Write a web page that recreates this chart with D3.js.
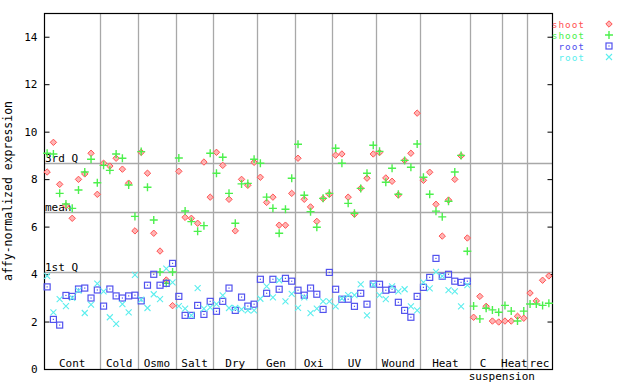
<!DOCTYPE html>
<html>
<head>
  <script src="https://d3js.org/d3.v7.min.js"></script>
</head>
<style>
  body { margin: 0; background: #fff; }
  text { font-family: "DejaVu Sans Mono", monospace; font-size: 11px; }
</style>
<body>
  <svg id="chart"></svg>
</body>
<script>
  var w = 640;
  var h = 384;
  var margin = {top: 13, right: 88, bottom: 15, left: 44};

  // groups of samples along the x axis
  var groups = ["Cont", "Cold", "Osmo", "Salt", "Dry", "Gen", "Oxi", "UV", "Wound", "Heat", "C suspension", "Heat", "rec"];
  var groupSizes = [9, 6, 6, 6, 7, 6, 6, 7, 7, 8, 5, 4, 4];

  var seriesNames = ["shoot", "shoot", "root", "root"];

  var shootRed = [
    8.30, 9.55, 7.78, 6.88, 6.35, 7.99, 8.22, 9.09, 7.36,
    8.67, 8.55, 8.88, 8.42, 7.83, 5.82,
    9.13, 8.25, 5.72, 4.97, 3.75, 2.67,
    8.33, 6.39, 6.35, 6.14, 8.72, 7.24,
    9.13, 8.58, 7.15, 5.82, 7.99, 7.74, 8.71,
    8.08, 7.02, 7.24, 6.06, 6.06, 7.40,
    8.88, 7.15, 6.83, 6.22, 7.18, 7.36,
    9.01, 9.06, 7.24, 6.52, 7.61, 8.04, 9.06,
    9.12, 8.05, 7.91, 7.33, 8.79, 9.09, 10.78,
    7.95, 8.29, 6.94, 5.60, 7.12, 7.99, 8.98, 5.52,
    2.18, 3.06, 2.64, 2.02, 1.98,
    2.02, 2.02, 2.22, 2.14,
    3.20, 2.87, 3.74, 3.92
  ];
  var shootGreen = [
    9.09, 9.06, 7.40, 6.95, 6.77, 7.54, 8.30, 8.84, 7.85,
    8.58, 8.37, 9.06, 8.88, 7.75, 6.43,
    9.16, 7.66, 6.28, 4.09, 3.61, 4.09,
    8.89, 6.66, 6.21, 5.80, 6.04, 9.09,
    8.25, 8.92, 7.40, 6.14, 7.80, 7.82, 8.84,
    8.67, 7.24, 6.77, 5.72, 6.73, 8.04,
    9.47, 7.32, 6.63, 5.97, 7.19, 7.40,
    9.30, 8.67, 6.98, 6.56, 7.61, 8.25, 9.43,
    9.17, 7.87, 8.46, 7.36, 8.79, 8.50, 9.48,
    8.08, 7.36, 6.65, 6.41, 7.07, 8.30, 9.00, 4.96,
    2.65, 2.11, 2.56, 2.49, 2.39,
    2.68, 2.44, 2.02, 2.44,
    2.74, 2.74, 2.68, 2.77
  ];
  var rootBlue = [
    3.46, 2.09, 1.85, 3.10, 3.06, 3.37, 3.41, 2.99, 3.33,
    2.65, 3.37, 3.08, 2.99, 3.08, 3.11,
    2.87, 3.53, 3.99, 3.53, 3.61, 4.45,
    3.06, 2.26, 2.26, 2.68, 2.30, 2.85,
    2.43, 2.85, 3.41, 2.47, 3.03, 2.65, 2.73,
    3.78, 3.19, 3.78, 3.36, 3.82, 3.70,
    3.32, 3.11, 3.41, 3.15, 2.51, 4.07,
    3.36, 2.94, 2.94, 2.64, 3.19, 2.73, 3.58,
    3.57, 3.32, 3.36, 2.81, 2.47, 2.18, 3.06,
    3.44, 3.86, 4.66, 3.91, 3.99, 3.70, 3.65, 3.70
  ];
  var rootCyan = [
    3.92, 2.39, 2.94, 2.65, 3.00, 3.30, 2.36, 2.71, 3.60,
    3.27, 2.18, 1.90, 2.73, 2.39, 3.97,
    2.92, 2.57, 3.15, 2.94, 4.23, 3.65,
    2.65, 2.54, 2.26, 3.41, 2.54, 2.60,
    2.73, 3.10, 2.57, 2.57, 2.51, 2.47, 2.47,
    2.96, 3.48, 3.02, 3.74, 2.85, 3.17,
    2.58, 3.02, 2.35, 2.54, 2.85, 2.85,
    2.64, 2.97, 3.11, 3.11, 3.57, 2.26, 3.55,
    3.11, 2.94, 3.48, 3.27, 3.36, 2.64, 2.47,
    3.65, 3.40, 4.09, 3.91, 3.32, 3.27, 2.64, 3.53
  ];

  var refLabels = ["3rd Q", "mean", "1st Q"];
  var refValues = [8.69, 6.62, 4.09];
  var yTicks = [0, 2, 4, 6, 8, 10, 12, 14];

  var colors = ["#ff5353", "#4cf04c", "#5252ee", "#5ceeee"];
  var symbols = ["diamond", "plus", "square", "cross"];

  var nSamples = d3.sum(groupSizes);
  var x = d3.scaleBand()
      .domain(d3.range(nSamples))
      .range([margin.left, w - margin.right])
      .padding(0);
  var y = d3.scaleLinear()
      .domain([0, 15])
      .range([h - margin.bottom, margin.top]);

  var cx = function(i){ return x(i) + x.bandwidth()/2; };

  var svg = d3.select("svg#chart")
      .attr("width", w)
      .attr("height", h);

  // group boundaries
  var starts = [];
  var acc = 0;
  groupSizes.forEach(function(n){ starts.push(acc); acc += n; });

  svg.append("g")
      .selectAll("line")
      .data(starts.slice(1))
      .enter().append("line")
      .attr("x1", function(d){ return Math.round(x(d)) + 0.5; })
      .attr("x2", function(d){ return Math.round(x(d)) + 0.5; })
      .attr("y1", y(15))
      .attr("y2", y(0))
      .style("stroke", "#a8a8a8")
      .style("stroke-width", 1.3);

  // quartile / mean lines
  svg.append("g")
      .selectAll("line")
      .data(refValues)
      .enter().append("line")
      .attr("x1", margin.left)
      .attr("x2", w - margin.right)
      .attr("y1", function(d){ return Math.round(y(d)) + 0.5; })
      .attr("y2", function(d){ return Math.round(y(d)) + 0.5; })
      .style("stroke", "#a8a8a8")
      .style("stroke-width", 1.3);

  svg.append("g")
      .selectAll("text")
      .data(refValues)
      .enter().append("text")
      .attr("x", margin.left + 1)
      .attr("y", function(d){ return Math.round(y(d)) - 1; })
      .text(function(d, i){ return refLabels[i]; });

  // axes
  var yAxisL = d3.axisLeft(y).tickValues(yTicks).tickSizeInner(-5).tickSizeOuter(0).tickPadding(7);
  var yAxisR = d3.axisRight(y).tickValues(yTicks).tickSizeInner(-5).tickSizeOuter(0).tickFormat("");

  var gl = svg.append("g")
      .attr("transform", "translate(" + (margin.left + 0.5) + ",0)")
      .call(yAxisL);
  var gr = svg.append("g")
      .attr("transform", "translate(" + (w - margin.right + 0.5) + ",0)")
      .call(yAxisR);
  [gl, gr].forEach(function(g){
    g.select(".domain").remove();
    g.selectAll("line").style("stroke", "#000");
    g.selectAll("text").style("font-family", "DejaVu Sans Mono, monospace").style("font-size", "11px").attr("fill", "#000");
  });

  // frame
  svg.append("rect")
      .attr("x", margin.left + 0.5)
      .attr("y", margin.top + 0.5)
      .attr("width", w - margin.right - margin.left)
      .attr("height", h - margin.bottom - margin.top)
      .style("fill", "none")
      .style("stroke", "#000")
      .style("stroke-width", 1.2);

  // group labels
  svg.append("g")
      .selectAll("text")
      .data(groups)
      .enter().append("text")
      .attr("x", function(d, i){
        var mid = x(starts[i]) + groupSizes[i]*x.bandwidth()/2;
        return d === "C suspension" ? mid - 3 : mid;
      })
      .attr("y", y(0) - 2)
      .attr("text-anchor", "middle")
      .text(function(d){ return d.split(" ")[0]; });

  var ci = groups.indexOf("C suspension");
  svg.append("text")
      .attr("x", x(starts[ci] + groupSizes[ci]))
      .attr("y", y(0) + 11)
      .attr("text-anchor", "middle")
      .text("suspension");

  // y title
  svg.append("text")
      .attr("transform", "translate(12," + y(7.5) + ") rotate(-90)")
      .attr("text-anchor", "middle")
      .style("font-size", "11.5px")
      .text("affy-normalized expression");

  // marker drawing
  function marker(g, type, color){
    if (type === "diamond") {
      g.append("path").attr("d", "M0,-3.2L3.2,0L0,3.2L-3.2,0Z")
        .style("fill", "#ffb4b4").style("stroke", color).style("stroke-width", 1);
    } else if (type === "plus") {
      g.append("path").attr("d", "M-4,0H4M0,-4V4")
        .style("stroke", color).style("stroke-width", 1.4).style("fill", "none");
    } else if (type === "square") {
      g.append("rect").attr("x", -3).attr("y", -3).attr("width", 6).attr("height", 6)
        .style("fill", "none").style("stroke", color).style("stroke-width", 1.2);
      g.append("rect").attr("x", -0.6).attr("y", -0.6).attr("width", 1.2).attr("height", 1.2)
        .style("fill", color);
    } else {
      g.append("path").attr("d", "M-3,-3L3,3M-3,3L3,-3")
        .style("stroke", color).style("stroke-width", 1.1).style("fill", "none");
    }
  }

  var allSeries = [shootRed, shootGreen, rootBlue, rootCyan];
  allSeries.forEach(function(vals, s){
    var pts = svg.append("g").selectAll("g")
        .data(vals)
        .enter().append("g")
        .attr("transform", function(d, i){ return "translate(" + cx(i) + "," + y(d) + ")"; });
    pts.each(function(){ marker(d3.select(this), symbols[s], colors[s]); });
  });

  // legend
  var leg = svg.append("g");
  seriesNames.forEach(function(name, s){
    var ly = 24 + s*11;
    leg.append("text")
      .attr("x", 585)
      .attr("y", ly + 3.5)
      .attr("text-anchor", "end")
      .style("fill", colors[s])
      .style("font-size", "9.4px")
      .style("letter-spacing", "1px")
      .text(name);
    var g = leg.append("g").attr("transform", "translate(609," + ly + ")");
    marker(g, symbols[s], colors[s]);
  });
</script>
</html>
